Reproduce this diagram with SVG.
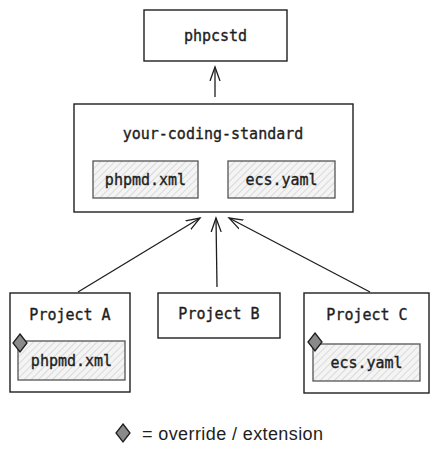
<svg xmlns="http://www.w3.org/2000/svg" width="439" height="456" viewBox="0 0 439 456">
<defs>
<pattern id="hatch" width="5" height="5" patternUnits="userSpaceOnUse" patternTransform="rotate(45)">
<rect width="5" height="5" fill="#f4f4f4"/>
<line x1="0" y1="0" x2="0" y2="5" stroke="#c8c8c8" stroke-width="1.2"/>
</pattern>
<marker id="arr" markerWidth="16" markerHeight="16" refX="14" refY="8" orient="auto" markerUnits="userSpaceOnUse">
<path d="M0,3 L14,8 L0,13" fill="none" stroke="#1e1e1e" stroke-width="1.3"/>
</marker>
<style>
.box{fill:#fff;stroke:#1e1e1e;stroke-width:1.4}
.inner{fill:url(#hatch);stroke:#555;stroke-width:1.3}
.t{font-family:"DejaVu Sans Mono","Liberation Mono",monospace;font-size:15px;fill:#1e1e1e;stroke:#1e1e1e;stroke-width:0.35;text-anchor:middle}
.dia{fill:#8a8a8a;stroke:#1e1e1e;stroke-width:1.3}
.c{fill:none;stroke:#1e1e1e;stroke-width:1.3}
.leg{font-family:"Liberation Sans",Arial,sans-serif;font-size:18px;letter-spacing:0.4px;fill:#1e1e1e}
</style>
</defs>
<rect width="439" height="456" fill="#fff"/>
<g id="connectors">
<line class="c" x1="215" y1="97" x2="215" y2="67" marker-end="url(#arr)"/>
<line class="c" x1="78" y1="292" x2="200" y2="218" marker-end="url(#arr)"/>
<line class="c" x1="217" y1="287" x2="216" y2="218" marker-end="url(#arr)"/>
<line class="c" x1="370" y1="292" x2="229" y2="218" marker-end="url(#arr)"/>
</g>
<g id="phpcstd">
<rect class="box" x="144" y="10" width="143" height="51"/>
<text class="t" x="215.5" y="41">phpcstd</text>
</g>
<g id="your-coding-standard">
<rect class="box" x="74" y="104" width="279" height="108"/>
<text class="t" x="213" y="139">your-coding-standard</text>
<g id="ycs-phpmd">
<rect class="inner" x="93" y="161" width="105" height="37"/>
<text class="t" x="145.5" y="185">phpmd.xml</text>
</g>
<g id="ycs-ecs">
<rect class="inner" x="228" y="161" width="107" height="37"/>
<text class="t" x="281.5" y="185">ecs.yaml</text>
</g>
</g>
<g id="project-a">
<rect class="box" x="10" y="293" width="120" height="99"/>
<text class="t" x="70" y="320">Project A</text>
<rect class="inner" x="18" y="341" width="107" height="39"/>
<text class="t" x="71.5" y="366">phpmd.xml</text>
<polygon class="dia" points="20,334 27,343 20,352 13,343"/>
</g>
<g id="project-b">
<rect class="box" x="158" y="293" width="122" height="45"/>
<text class="t" x="219" y="319">Project B</text>
</g>
<g id="project-c">
<rect class="box" x="304" y="293" width="125" height="100"/>
<text class="t" x="367" y="320">Project C</text>
<rect class="inner" x="313" y="344" width="107" height="37"/>
<text class="t" x="366.5" y="368">ecs.yaml</text>
<polygon class="dia" points="315,333 322,342 315,351 308,342"/>
</g>
<g id="legend">
<polygon class="dia" points="123,424 130,433 123,442 116,433"/>
<text class="leg" x="142" y="440">= override / extension</text>
</g>
</svg>
